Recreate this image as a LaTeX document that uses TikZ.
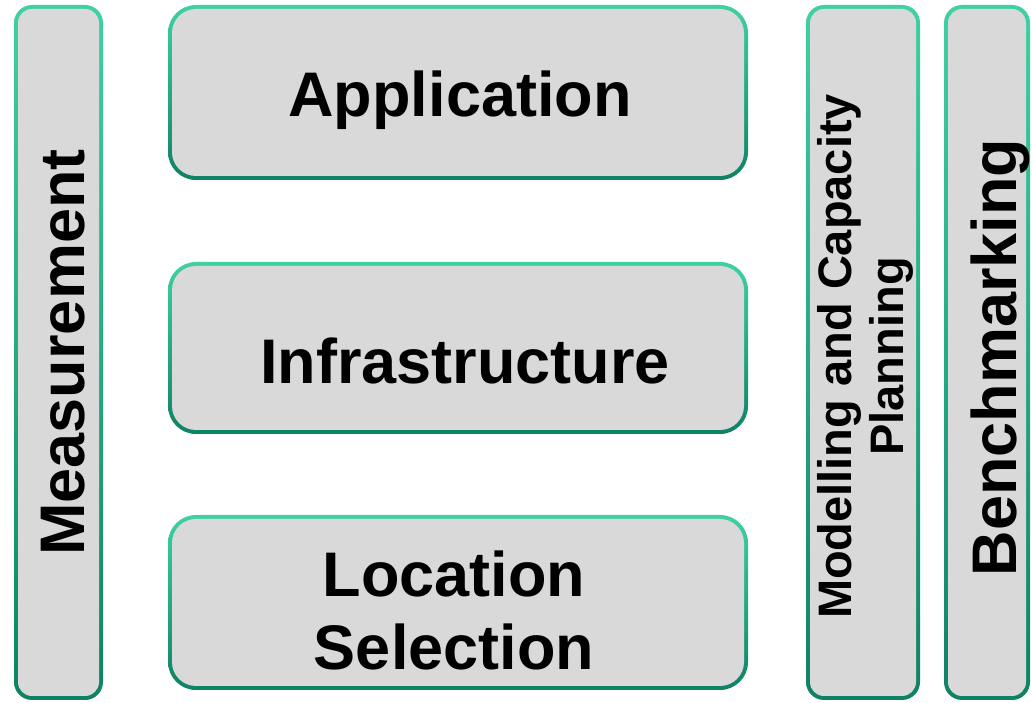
\documentclass[tikz,border=0pt]{standalone}
\usepackage{fontspec}
\setmainfont{Liberation Sans}
\definecolor{rimtop}{HTML}{40D0A4}
\definecolor{rimbot}{HTML}{0F8264}
\definecolor{panelgray}{HTML}{D9D9D9}
\tikzset{
  panel/.style={
    rounded corners=#1, draw=none,
    top color=rimtop, bottom color=rimbot,
    inner sep=0pt, outer sep=0pt,
    path picture={
      \fill[panelgray, rounded corners=#1-4pt]
        ([xshift=4pt,yshift=-4pt]path picture bounding box.north west) rectangle
        ([xshift=-4pt,yshift=4pt]path picture bounding box.south east);
    }
  },
  bigtext/.style={align=center, text=black, inner sep=0pt,
    font=\bfseries\fontsize{63}{73}\selectfont},
  midtext/.style={align=center, text=black, inner sep=0pt,
    font=\bfseries\fontsize{47}{52}\selectfont}
}
\begin{document}
\begin{tikzpicture}[x=1pt,y=1pt]
\useasboundingbox (0,0) rectangle (1033,703);

% left column
\node[panel=18pt, minimum width=89pt, minimum height=695pt] (meas) at (58.5,350.5) {};
\node[bigtext, rotate=90] (meastxt) at ([xshift=5pt]meas.center) {Measurement};

% central stack
\node[panel=28pt, minimum width=580pt, minimum height=175pt] (app) at (458,610.5) {};
\node[bigtext] (apptxt) at ([xshift=2pt,yshift=-8pt]app.center) {Application};

\node[panel=28pt, minimum width=580pt, minimum height=172pt] (infra) at (458,355) {};
\node[bigtext] (infratxt) at ([xshift=7pt,yshift=-13pt]infra.center) {Infrastructure};

\node[panel=28pt, minimum width=580pt, minimum height=175pt] (loc) at (458,100.5) {};
\node[bigtext] (loctxt) at ([xshift=-4pt,yshift=-8pt]loc.center) {Location\\Selection};

% right columns
\node[panel=18pt, minimum width=114pt, minimum height=695pt] (model) at (863,350.5) {};
\node[midtext, rotate=90] (modeltxt) at ([xshift=2pt,yshift=-4pt]model.center) {Modelling and Capacity\\Planning};

\node[panel=18pt, minimum width=86pt, minimum height=695pt] (bench) at (987,350.5) {};
\node[bigtext, rotate=90] (benchtxt) at ([xshift=13pt,yshift=-5pt]bench.center) {Benchmarking};
\end{tikzpicture}
\end{document}
